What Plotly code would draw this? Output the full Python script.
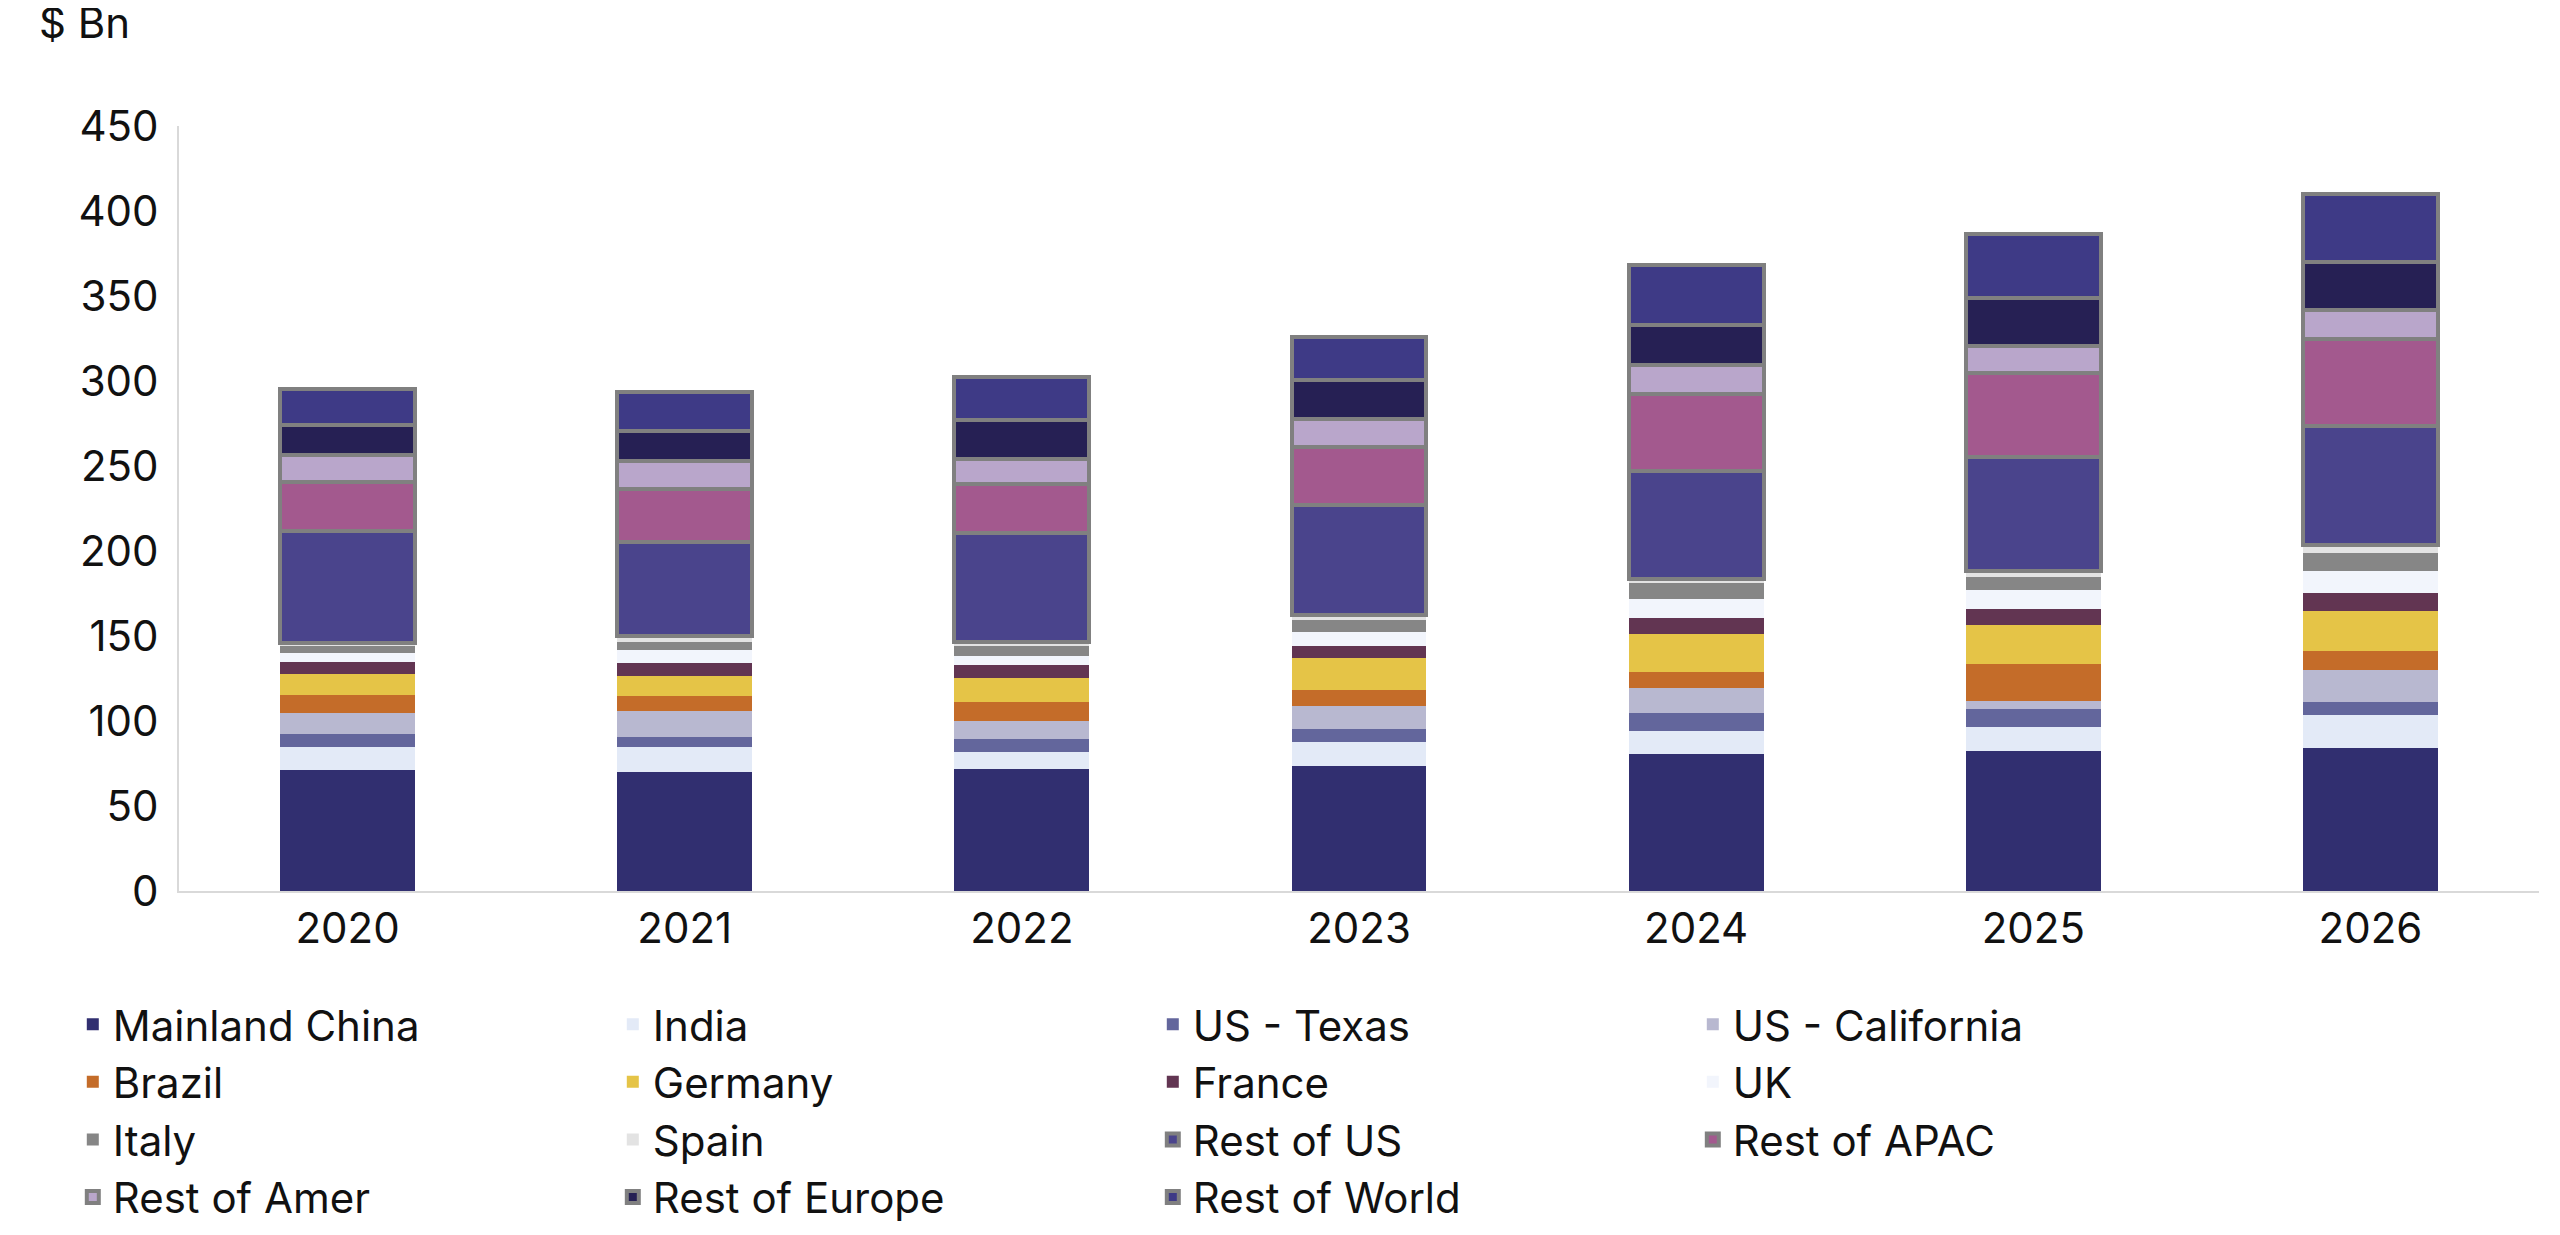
import plotly.graph_objects as go

years = ["2020", "2021", "2022", "2023", "2024", "2025", "2026"]
series_names = ["Mainland China", "India", "US - Texas", "US - California", "Brazil",
                "Germany", "France", "UK", "Italy", "Spain",
                "Rest of US", "Rest of APAC", "Rest of Amer", "Rest of Europe", "Rest of World"]
mainland_china = [71, 70, 72, 73.6, 80.6, 82.5, 83.9]
india = [14, 15, 9.5, 14, 13.7, 14, 19.6]
us_texas = [7.5, 5.6, 8, 7.5, 10.6, 10.4, 7.8]
us_california = [12, 15.4, 10.6, 14, 14.8, 5, 18.7]
brazil = [11, 9, 11.2, 9.3, 9, 21.8, 11.3]
germany = [12, 11.5, 14, 18.7, 22.3, 22.9, 23.7]
france = [7, 7.8, 7.5, 7, 9.3, 9.3, 10.4]
uk = [5.5, 7.3, 5.6, 8.4, 11.2, 10.9, 12.6]
italy = [4, 5, 6, 7, 9.8, 7.8, 10.6]
spain = [2, 3.6, 2.3, 2.8, 2.5, 3.4, 4.8]
rest_of_us = [66, 55, 64, 65, 63, 67.4, 69.9]
rest_of_apac = [28.5, 31, 28.7, 33.6, 45.3, 49.5, 51.7]
rest_of_amer = [15.8, 17, 15, 16.5, 17.4, 15.9, 16.8]
rest_of_europe = [18, 17.4, 22.7, 23.2, 23.2, 28, 28.2]
rest_of_world = [21, 23, 25.5, 25.2, 35.8, 37.8, 39.8]

values = [mainland_china, india, us_texas, us_california, brazil, germany, france, uk,
          italy, spain, rest_of_us, rest_of_apac, rest_of_amer, rest_of_europe, rest_of_world]
colors = ["#312F70", "#E3EAF7", "#63669C", "#B8B8D0", "#C46C29", "#E5C447", "#623552",
          "#F2F5FC", "#868686", "#E3E3E3", "#4A448C", "#A3598E", "#B9A6CB", "#262054", "#3E3A86"]
outlined = [False] * 10 + [True] * 5

fig = go.Figure()
for name, vals, col, ol in zip(series_names, values, colors, outlined):
    fig.add_trace(go.Bar(
        x=years, y=vals, name=name,
        marker=dict(color=col, line=dict(color="#808080", width=4 if ol else 0)),
        width=0.4,
    ))

fig.update_layout(
    barmode="stack",
    width=2560, height=1235,
    paper_bgcolor="white", plot_bgcolor="white",
    margin=dict(l=171, r=29, t=118, b=329),
    font=dict(family="Inter, Lato, sans-serif", size=42, color="#111111"),
    xaxis=dict(showline=True, linecolor="#D9D9D9", linewidth=2, ticks="", showgrid=False,
               tickfont=dict(size=42)),
    yaxis=dict(range=[0, 450], dtick=50, showline=True, linecolor="#D9D9D9", linewidth=2,
               showgrid=False, ticks="", tickfont=dict(size=42), ticklabelstandoff=10),
    legend=dict(orientation="h", x=-0.045, xanchor="left", y=-0.13, yanchor="top",
                entrywidth=495, entrywidthmode="pixels", traceorder="normal",
                font=dict(size=42), itemwidth=30, tracegroupgap=0),
    showlegend=True,
    bargap=0.6,
    annotations=[dict(text="$ Bn", xref="paper", yref="paper", x=-0.06, y=1.135,
                      xanchor="left", yanchor="middle", showarrow=False, font=dict(size=42))],
)

fig.write_html("out.html")
